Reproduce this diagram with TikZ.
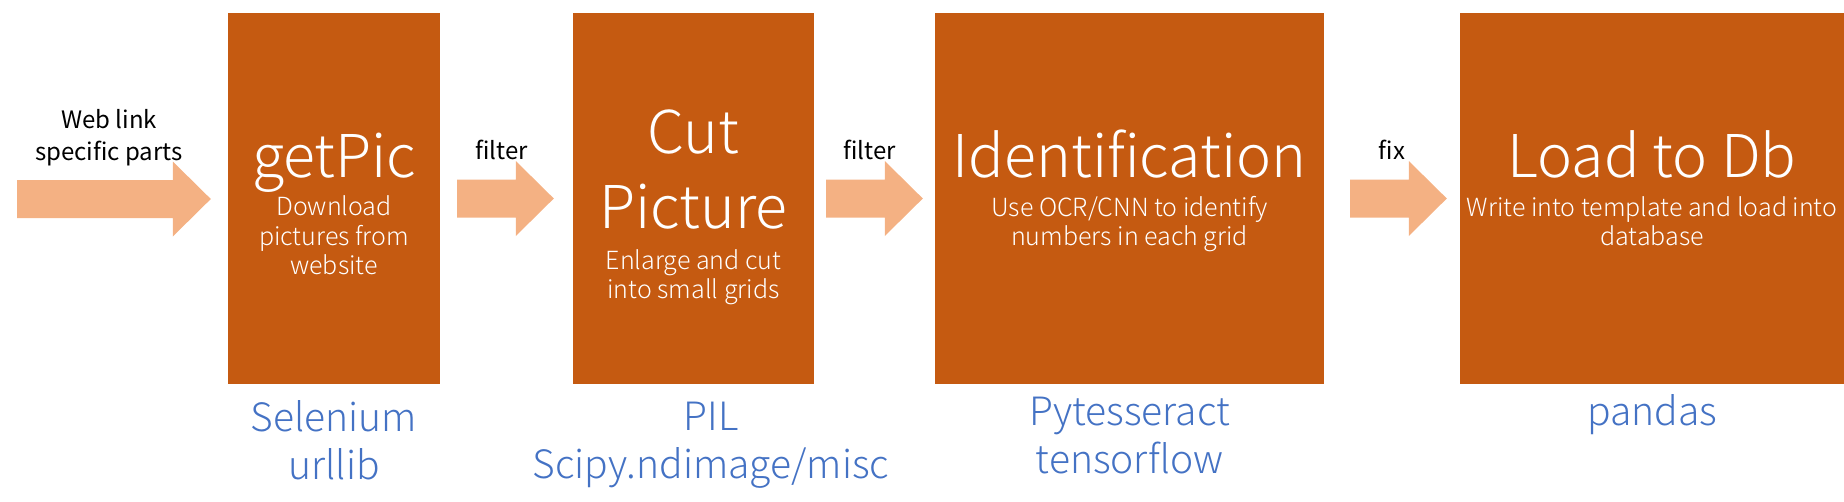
\documentclass[tikz,border=0pt]{standalone}
\usepackage{fontspec}
\usetikzlibrary{calc,positioning}
\IfFontExistsTF{Noto Sans CJK SC Light}
  {\newfontfamily\thinfont{Noto Sans CJK SC Light}}
  {\newfontfamily\thinfont{Noto Sans CJK SC}}
\newfontfamily\labelfont{Noto Sans CJK SC}
\definecolor{stageorange}{HTML}{C55A11}
\definecolor{flowpeach}{HTML}{F4B183}
\definecolor{toolblue}{HTML}{4472C4}
\tikzset{
  stage/.style={fill=stageorange, draw=none, inner sep=0pt, minimum height=371pt},
  stagetitle/.style={text=white, inner sep=0pt, align=center, font=\thinfont\fontsize{59}{75}\selectfont},
  stagenote/.style={text=white, inner sep=0pt, align=center, font=\thinfont\fontsize{25}{29.5}\selectfont},
  toolname/.style={text=toolblue, inner sep=0pt, align=center, font=\thinfont\fontsize{39}{48}\selectfont},
  flowlabel/.style={inner sep=0pt, align=center, font=\labelfont\fontsize{24}{32}\selectfont},
  flow/.style={fill=flowpeach, draw=none, to path={
    let \p1=(\tikztostart), \p2=(\tikztotarget) in
    (\x1,\y1+19pt) -- (\x2-38pt,\y1+19pt) -- (\x2-38pt,\y1+37.5pt) -- (\x2,\y1)
    -- (\x2-38pt,\y1-37.5pt) -- (\x2-38pt,\y1-19pt) -- (\x1,\y1-19pt) -- cycle}}
}
\begin{document}
\begin{tikzpicture}[x=1pt, y=-1pt]
    \useasboundingbox (0,0) rectangle (1844,501);
    % the four stages
    \node[stage, minimum width=212pt] (getpic) at (334,198.5) {};
    \node[stage, minimum width=241pt] (cut) at (693.5,198.5) {};
    \node[stage, minimum width=389pt] (ident) at (1129.5,198.5) {};
    \node[stage, minimum width=384pt] (load) at (1652,198.5) {};
    % base of a multi-line node = its last line
    \node[stagetitle, anchor=base] (getpic-title) at ([yshift=-165pt]getpic.north) {getPic};
    \node[stagenote, anchor=base] (getpic-note) at ([yshift=-262pt]getpic.north) {Download\\pictures from\\website};
    \node[stagetitle, anchor=base] (cut-title) at ([yshift=-216pt]cut.north) {Cut\\Picture};
    \node[stagenote, anchor=base] (cut-note) at ([yshift=-286pt]cut.north) {Enlarge and cut\\into small grids};
    \node[stagetitle, anchor=base] (ident-title) at ([yshift=-165pt]ident.north) {Identification};
    \node[stagenote, anchor=base] (ident-note) at ([yshift=-233pt]ident.north) {Use OCR/CNN to identify\\numbers in each grid};
    \node[stagetitle, anchor=base] (load-title) at ([yshift=-165pt]load.north) {Load to Db};
    \node[stagenote, anchor=base] (load-note) at ([yshift=-233pt]load.north) {Write into template and load into\\database};
    % tools below
    \node[toolname, anchor=base] (getpic-tools) at ([yshift=-95pt]getpic.south) {Selenium\\urllib};
    \node[toolname, anchor=base] (cut-tools) at ([xshift=17.5pt, yshift=-94pt]cut.south) {PIL\\Scipy.ndimage/misc};
    \node[toolname, anchor=base] (ident-tools) at ([yshift=-89pt]ident.south) {Pytesseract\\tensorflow};
    \node[toolname, anchor=base] (load-tools) at ([yshift=-41pt]load.south) {pandas};
    % block arrows
    \coordinate (web) at (17,199);
    \path[flow] (web) to ([xshift=-17pt]getpic.west);
    \path[flow] ([xshift=17pt]getpic.east) to ([xshift=-19pt]cut.west);
    \path[flow] ([xshift=12pt]cut.east) to ([xshift=-12pt]ident.west);
    \path[flow] ([xshift=26pt]ident.east) to ([xshift=-13pt]load.west);
    \node[flowlabel, anchor=base] (web-label) at (109,160) {Web link\\specific parts};
    \node[flowlabel, anchor=base] (filter-a) at ([xshift=-5pt, yshift=39pt]$(getpic.east)!0.5!(cut.west)$) {filter};
    \node[flowlabel, anchor=base] (filter-b) at ([xshift=-5pt, yshift=39pt]$(cut.east)!0.5!(ident.west)$) {filter};
    \node[flowlabel, anchor=base] (fix) at ([yshift=39pt]$(ident.east)!0.5!(load.west)$) {fix};
\end{tikzpicture}
\end{document}
